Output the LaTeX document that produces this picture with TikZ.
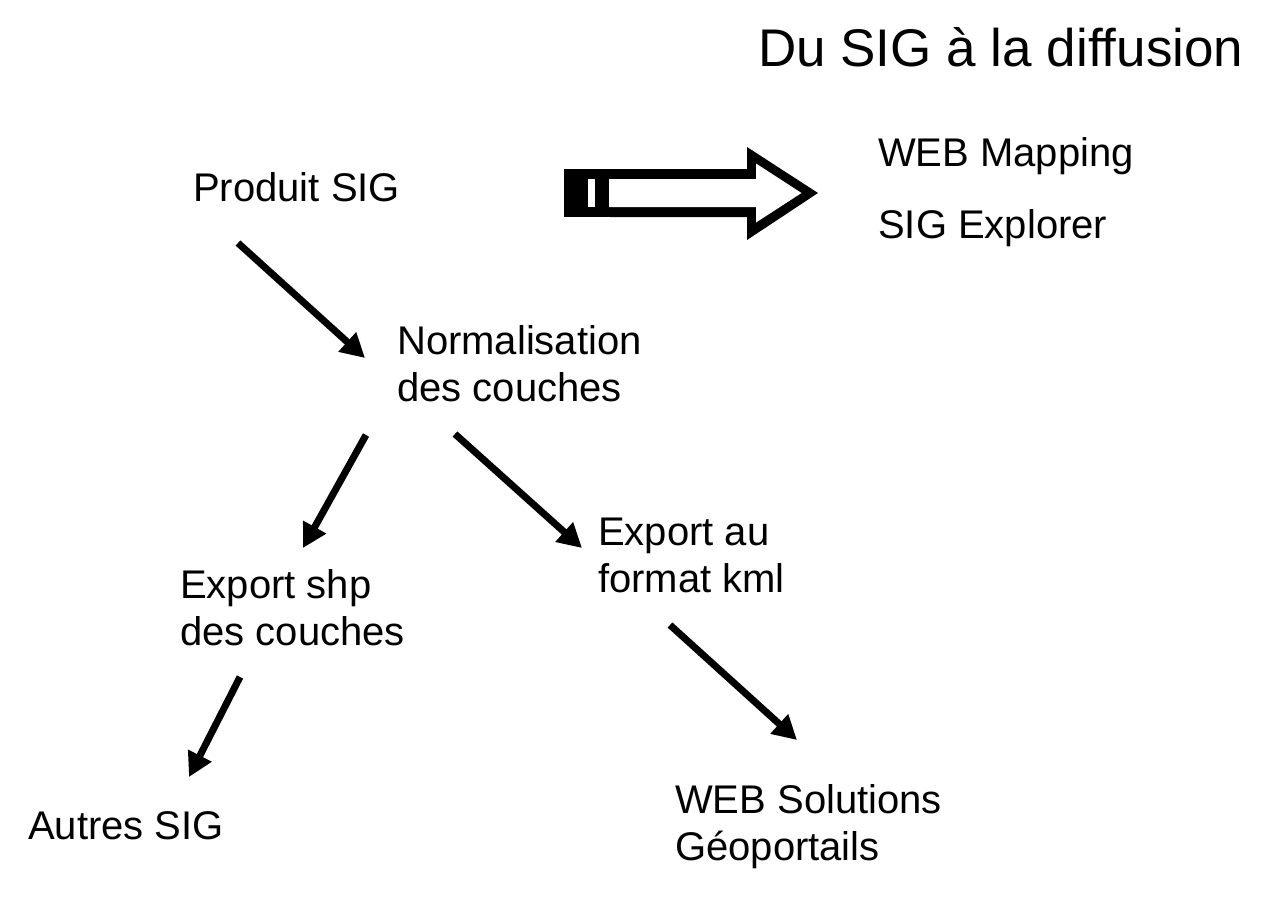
\documentclass[tikz,border=0pt]{standalone}
\usepackage{fontspec}
\setmainfont{Liberation Sans}
\usepackage{tikz}
\usetikzlibrary{arrows.meta}

\tikzset{
	etape/.style={anchor=base west,inner sep=0pt,align=left,
		font=\fontsize{40}{47}\selectfont},
	fleche/.style={line width=7pt,-{Triangle[length=24pt,width=25pt]}}
}

\begin{document}
\begin{tikzpicture}[x=1pt,y=-1pt]
		\useasboundingbox (0,0) rectangle (1283,897);
		%
		\node[anchor=base west,inner sep=0pt,font=\fontsize{53}{60}\selectfont] (titre) at (758,66) {Du SIG à la diffusion};
		%
		\node[etape] (produit) at (193,201) {Produit SIG};
		\node[etape] (webmap) at (878,166) {WEB Mapping};
		\node[etape] (explorer) at (878,238) {SIG Explorer};
		\node[etape] (norm) at (397,401) {Normalisation\\des couches};
		\node[etape] (shp) at (180,645) {Export shp\\des couches};
		\node[etape] (kml) at (598,592) {Export au\\format kml};
		\node[etape] (autres) at (28,839) {Autres SIG};
		\node[etape] (websol) at (675,860) {WEB Solutions\\Géoportails};
		%
		\coordinate (produit-s) at (238,243);
		\coordinate (norm-n) at (365,358);
		\coordinate (norm-sw) at (366,435);
		\coordinate (norm-se) at (455,434);
		\coordinate (shp-n) at (303,548);
		\coordinate (shp-s) at (240,677);
		\coordinate (kml-n) at (582,548);
		\coordinate (kml-s) at (670,625);
		\coordinate (autres-n) at (189,777);
		\coordinate (websol-n) at (797,740);
		%
		\draw[fleche] (produit-s) -- (norm-n);
		\draw[fleche] (norm-sw) -- (shp-n);
		\draw[fleche] (norm-se) -- (kml-n);
		\draw[fleche] (shp-s) -- (autres-n);
		\draw[fleche] (kml-s) -- (websol-n);
		%
		\fill (564,169) rectangle (610,217);
		\fill[white] (588,179) rectangle (595,207);
		\fill (610,169) -- (747,169) -- (747,147) -- (818,193) -- (747,240) -- (747,217) -- (610,217) -- cycle;
		\fill[white] (609,179) -- (756,179) -- (756,163.5) -- (801.5,193) -- (756,222.5) -- (756,207) -- (609,207) -- cycle;
	\end{tikzpicture}
\end{document}
